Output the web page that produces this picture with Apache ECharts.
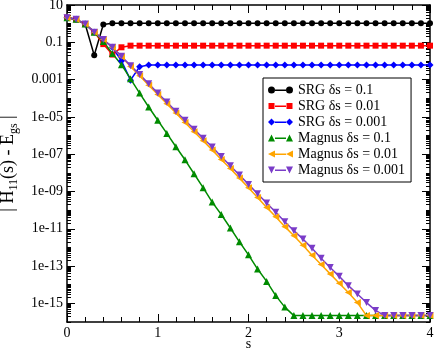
<!DOCTYPE html>
<html>
<head>
<meta charset="utf-8">
<script src="https://cdn.jsdelivr.net/npm/echarts@6/dist/echarts.min.js"></script>
<style>
  html, body { margin: 0; padding: 0; background: #fff; }
  #chart { width: 436px; height: 352px; }
</style>
</head>
<body>
<div id="chart"></div>
<script>
// flow parameter s (one marker every 0.1)
var sValues = [
    0.0, 0.1, 0.2, 0.3, 0.4, 0.5, 0.6, 0.7, 0.8, 0.9,
    1.0, 1.1, 1.2, 1.3, 1.4, 1.5, 1.6, 1.7, 1.8, 1.9,
    2.0, 2.1, 2.2, 2.3, 2.4, 2.5, 2.6, 2.7, 2.8, 2.9,
    3.0, 3.1, 3.2, 3.3, 3.4, 3.5, 3.6, 3.7, 3.8, 3.9,
    4.0
];

// |H11(s) - Egs|
var srg01 = [
    2.1, 1.7, 0.95, 2.0e-2, 0.9,
    1.05, 1.05, 1.05, 1.05, 1.05, 1.05, 1.05, 1.05, 1.05, 1.05, 1.05, 1.05,
    1.05, 1.05, 1.05, 1.05, 1.05, 1.05, 1.05, 1.05, 1.05, 1.05, 1.05, 1.05,
    1.05, 1.05, 1.05, 1.05, 1.05, 1.05, 1.05, 1.05, 1.05, 1.05, 1.05, 1.05
];
var srg001 = [
    2.1, 1.7, 0.95, 0.35, 8.0e-2, 2.2e-2, 5.4e-2,
    0.066, 0.066, 0.066, 0.066, 0.066, 0.066, 0.066, 0.066, 0.066, 0.066, 0.066, 0.066,
    0.066, 0.066, 0.066, 0.066, 0.066, 0.066, 0.066, 0.066, 0.066, 0.066, 0.066, 0.066,
    0.066, 0.066, 0.066, 0.066, 0.066, 0.066, 0.066, 0.066, 0.066, 0.066
];
var srg0001 = [
    2.1, 1.7, 0.95, 0.35, 0.14, 5.4e-2, 1.0e-2, 9.3e-4, 4.9e-3,
    6.0e-3, 6.0e-3, 6.0e-3, 6.0e-3, 6.0e-3, 6.0e-3, 6.0e-3, 6.0e-3, 6.0e-3, 6.0e-3, 6.0e-3, 6.0e-3,
    6.0e-3, 6.0e-3, 6.0e-3, 6.0e-3, 6.0e-3, 6.0e-3, 6.0e-3, 6.0e-3, 6.0e-3, 6.0e-3, 6.0e-3, 6.0e-3,
    6.0e-3, 6.0e-3, 6.0e-3, 6.0e-3, 6.0e-3, 6.0e-3, 6.0e-3, 6.0e-3
];
var magnus01 = [
    2.1, 1.7, 0.95, 0.35, 0.11, 2.5e-2, 6.3e-3, 1.1e-3, 1.9e-4, 3.4e-5,
    6.6e-6, 1.3e-6, 2.5e-7, 5.0e-8, 8.9e-9, 1.6e-9, 2.7e-10, 5.8e-11, 1.1e-11, 2.0e-12,
    4.0e-13, 6.9e-14, 1.5e-14, 2.6e-15, 6.3e-16,
    2.2e-16, 2.2e-16, 2.2e-16, 2.2e-16, 2.2e-16, 2.2e-16, 2.2e-16, 2.2e-16,
    2.2e-16, 2.2e-16, 2.2e-16, 2.2e-16, 2.2e-16, 2.2e-16, 2.2e-16, 2.2e-16
];
var magnus001 = [
    2.1, 1.7, 0.95, 0.35, 0.14, 5.4e-2, 1.7e-2, 5.0e-3, 1.6e-3, 5.0e-4,
    1.6e-4, 5.0e-5, 1.6e-5, 5.0e-6, 1.6e-6, 5.2e-7, 1.7e-7, 5.2e-8, 1.7e-8, 5.2e-9,
    1.6e-9, 4.8e-10, 1.4e-10, 4.4e-11, 1.3e-11, 4.2e-12, 1.3e-12, 3.8e-13, 1.2e-13, 3.8e-14,
    1.2e-14, 3.8e-15, 1.1e-15,
    2.2e-16, 2.2e-16, 2.2e-16, 2.2e-16, 2.2e-16, 2.2e-16, 2.2e-16, 2.2e-16
];
var magnus0001 = [
    2.1, 1.7, 0.95, 0.35, 0.14, 5.4e-2, 1.8e-2, 5.6e-3, 1.9e-3, 6.0e-4,
    1.9e-4, 6.3e-5, 2.0e-5, 6.6e-6, 2.2e-6, 7.2e-7, 2.4e-7, 7.6e-8, 2.4e-8, 7.6e-9,
    2.4e-9, 7.6e-10, 2.4e-10, 7.6e-11, 2.4e-11, 7.9e-12, 2.8e-12, 8.9e-13, 2.6e-13, 8.3e-14,
    2.8e-14, 8.9e-15, 3.2e-15, 1.1e-15, 4.2e-16,
    2.2e-16, 2.2e-16, 2.2e-16, 2.2e-16, 2.2e-16, 2.2e-16
];

var seriesNames = [
    'SRG δs = 0.1', 'SRG δs = 0.01', 'SRG δs = 0.001',
    'Magnus δs = 0.1', 'Magnus δs = 0.01', 'Magnus δs = 0.001'
];
var seriesColors = ['#000000', '#ff0000', '#0000ff', '#008b00', '#ffa500', '#7a3cc8'];

// y tick labels (log axis, every second decade)
var yLabelValues = [10, 0.1, 0.001, 1e-5, 1e-7, 1e-9, 1e-11, 1e-13, 1e-15];
var yLabelTexts = ['10', '0.1', '0.001', '1e-05', '1e-07', '1e-09', '1e-11', '1e-13', '1e-15'];
var yMin = 1e-16;
var yMax = 10;

var FONT = 'Liberation Serif';
var GRID = { left: 67, right: 6, top: 5, bottom: 30 };
var PLOT_W = 436 - GRID.left - GRID.right;

// the value axis runs in log10 space; labels are mapped back to the real numbers
var yMajor = yLabelValues.map(function (v) { return Math.log10(v); });
var yMinor = [];
for (var k = Math.log10(yMin); k < Math.log10(yMax); k++) {
    for (var m = 1; m <= 9; m++) {
        if (m === 1 && yMajor.indexOf(k) !== -1) { continue; }
        yMinor.push(k + Math.log10(m));
    }
}

function yLabel(val) {
    for (var i = 0; i < yMajor.length; i++) {
        if (Math.abs(yMajor[i] - val) < 1e-6) { return yLabelTexts[i]; }
    }
    return '';
}

// legend icons: line with a marker at each end (25 x 7 box)
var bar = 'M7,3 L18,3 L18,4.4 L7,4.4 Z ';
var legendIcons = [
    'path://M0,3.5 A3.5,3.5 0 1 1 7,3.5 A3.5,3.5 0 1 1 0,3.5 Z M18,3.5 A3.5,3.5 0 1 1 25,3.5 A3.5,3.5 0 1 1 18,3.5 Z ' + bar,
    'path://M0.5,0.5 L6.5,0.5 L6.5,6.5 L0.5,6.5 Z M18.5,0.5 L24.5,0.5 L24.5,6.5 L18.5,6.5 Z M0,0 L0,0 M25,7 L25,7 ' + bar,
    'path://M0,3.5 L3.5,0 L7,3.5 L3.5,7 Z M18,3.5 L21.5,0 L25,3.5 L21.5,7 Z ' + bar,
    'path://M0,7 L3.5,0 L7,7 Z M18,7 L21.5,0 L25,7 Z ' + bar,
    'path://M0,3.5 L7,0 L7,7 Z M18,3.5 L25,0 L25,7 Z ' + bar,
    'path://M0,0 L7,0 L3.5,7 Z M18,0 L25,0 L21.5,7 Z ' + bar
];

var symbols = ['circle', 'rect', 'diamond', 'triangle', 'triangle', 'triangle'];
var symbolRotates = [0, 0, 0, 0, 90, 180];
var symbolSizes = [6, 6, 7, 7, 7, 7];
var values = [srg01, srg001, srg0001, magnus01, magnus001, magnus0001];

var series = values.map(function (vals, idx) {
    return {
        name: seriesNames[idx],
        type: 'line',
        data: vals.map(function (v, i) { return [sValues[i], Math.log10(v)]; }),
        symbol: symbols[idx],
        symbolRotate: symbolRotates[idx],
        symbolSize: symbolSizes[idx],
        showAllSymbol: true,
        lineStyle: { color: seriesColors[idx], width: 1.5 },
        itemStyle: { color: seriesColors[idx] },
        emphasis: { disabled: true }
    };
});

function xAxisOpt(pos, showLabel) {
    return {
        type: 'value',
        position: pos,
        min: 0,
        max: 4,
        interval: 1,
        name: showLabel ? 's' : '',
        nameLocation: 'middle',
        nameGap: 15,
        nameMoveOverlap: false,
        nameTextStyle: { fontFamily: FONT, fontSize: 14, color: '#000' },
        axisLine: { show: true, onZero: false, lineStyle: { color: '#000', width: 1.5 } },
        axisTick: { show: true, inside: true, length: 8, lineStyle: { color: '#000', width: 1 } },
        minorTick: { show: true, splitNumber: 5, length: 5, lineStyle: { color: '#000', width: 1 } },
        axisLabel: { show: showLabel, fontFamily: FONT, fontSize: 14, color: '#000', margin: 4 },
        splitLine: { show: false },
        minorSplitLine: { show: false }
    };
}

// tick-only y axes; the left-hand ones sit on the right side shifted back over the plot
function yTickAxis(pos, offset, inside, ticks, len) {
    return {
        type: 'value',
        position: pos,
        offset: offset,
        min: Math.log10(yMin),
        max: Math.log10(yMax),
        interval: 1,
        axisLine: { show: false, onZero: false },
        axisTick: { show: true, inside: inside, length: len, customValues: ticks, lineStyle: { color: '#000', width: 1 } },
        axisLabel: { show: false },
        splitLine: { show: false }
    };
}

var yLabelAxis = {
    type: 'value',
    position: 'left',
    min: Math.log10(yMin),
    max: Math.log10(yMax),
    interval: 1,
    name: '{t|| H}{sub|11}{t|(s) - E}{sub|gs}{t| |}',
    nameLocation: 'middle',
    nameRotate: 90,
    nameGap: 46,
    nameTextStyle: {
        color: '#000',
        rich: {
            t: { fontFamily: FONT, fontSize: 18, color: '#000', lineHeight: 18 },
            sub: { fontFamily: FONT, fontSize: 12, color: '#000', lineHeight: 24, verticalAlign: 'bottom' }
        }
    },
    axisLine: { show: true, onZero: false, lineStyle: { color: '#000', width: 1.5 } },
    axisTick: { show: false },
    axisLabel: {
        customValues: yMajor,
        formatter: yLabel,
        fontFamily: FONT,
        fontSize: 14,
        color: '#000',
        margin: 4
    },
    splitLine: { show: false }
};

var yRightLine = {
    type: 'value',
    position: 'right',
    min: Math.log10(yMin),
    max: Math.log10(yMax),
    axisLine: { show: true, onZero: false, lineStyle: { color: '#000', width: 1.5 } },
    axisTick: { show: false },
    axisLabel: { show: false },
    splitLine: { show: false }
};

var chart = echarts.init(document.getElementById('chart'), null, { renderer: 'canvas' });

chart.setOption({
    animation: false,
    backgroundColor: '#fff',
    grid: {
        left: GRID.left, right: GRID.right, top: GRID.top, bottom: GRID.bottom,
        containLabel: false, outerBoundsMode: 'none'
    },
    legend: {
        orient: 'vertical',
        left: 263,
        top: 78,
        padding: [5, 6, 5, 5],
        itemGap: 2,
        itemWidth: 25,
        itemHeight: 7,
        backgroundColor: '#fff',
        borderColor: '#000',
        borderWidth: 1,
        borderRadius: 0,
        selectedMode: false,
        textStyle: { fontFamily: FONT, fontSize: 14, color: '#000', lineHeight: 14 },
        data: seriesNames.map(function (n, i) {
            return { name: n, icon: legendIcons[i], itemStyle: { color: seriesColors[i] } };
        })
    },
    xAxis: [xAxisOpt('bottom', true), xAxisOpt('top', false)],
    yAxis: [
        yLabelAxis,
        yRightLine,
        yTickAxis('right', -PLOT_W, false, yMajor, 8),
        yTickAxis('right', -PLOT_W, false, yMinor, 4),
        yTickAxis('right', 0, true, yMajor, 8),
        yTickAxis('right', 0, true, yMinor, 4)
    ],
    series: series
});
</script>
</body>
</html>
